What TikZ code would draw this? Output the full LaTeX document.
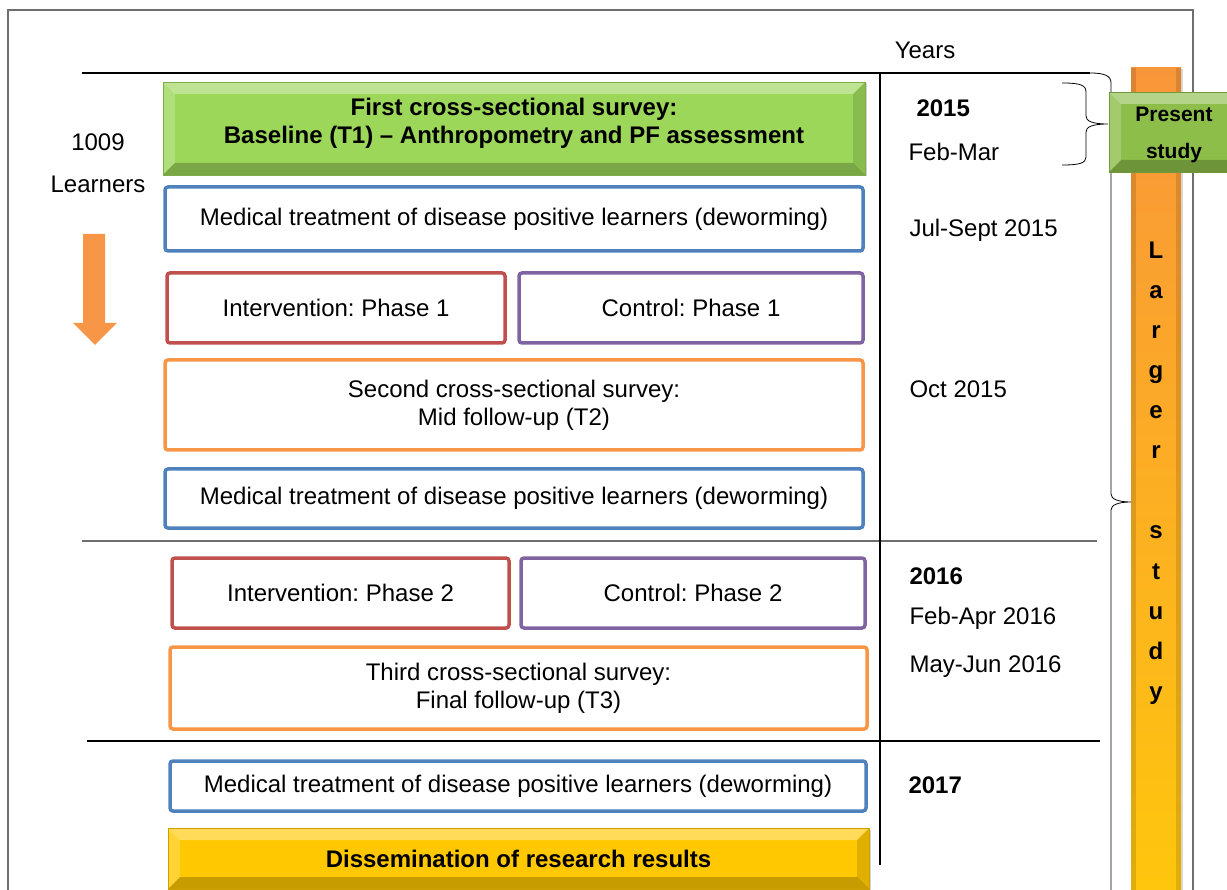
\documentclass[tikz,border=0pt]{standalone}
\usepackage{fontspec}
\setmainfont{Liberation Sans}
\usetikzlibrary{shadows}
\frenchspacing

\definecolor{boxblue}{HTML}{4F81BD}
\definecolor{boxred}{HTML}{C0504D}
\definecolor{boxpurple}{HTML}{8064A2}
\definecolor{boxorange}{HTML}{F79646}
\definecolor{surveygreen}{HTML}{9CD75A}
\definecolor{studygreen}{HTML}{8DBE4A}
\definecolor{dissyellow}{HTML}{FFC800}
\definecolor{barorange}{HTML}{F9963A}
\definecolor{baryellow}{HTML}{FFC90A}
\definecolor{framegray}{HTML}{6E6E6E}

\newcommand{\bigtext}{\fontsize{24}{28}\selectfont}

\tikzset{
  stagebox/.style={draw=#1, line width=3.5pt, rounded corners=3pt, fill=white,
    align=center, inner sep=0pt},
  bevel/.style={path picture={
    \fill[white, opacity=0.35] (path picture bounding box.north west) -- (path picture bounding box.north east)
      -- ([shift={(-12pt,-12pt)}]path picture bounding box.north east) -- ([shift={(12pt,-12pt)}]path picture bounding box.north west) -- cycle;
    \fill[white, opacity=0.2] (path picture bounding box.north west) -- (path picture bounding box.south west)
      -- ([shift={(12pt,12pt)}]path picture bounding box.south west) -- ([shift={(12pt,-12pt)}]path picture bounding box.north west) -- cycle;
    \fill[black, opacity=0.22] (path picture bounding box.south west) -- (path picture bounding box.south east)
      -- ([shift={(-12pt,12pt)}]path picture bounding box.south east) -- ([shift={(12pt,12pt)}]path picture bounding box.south west) -- cycle;
    \fill[black, opacity=0.12] (path picture bounding box.north east) -- (path picture bounding box.south east)
      -- ([shift={(-12pt,12pt)}]path picture bounding box.south east) -- ([shift={(-12pt,-12pt)}]path picture bounding box.north east) -- cycle;
  }},
  bevelbox/.style={fill=#1, draw=#1!80!black, line width=0.6pt, bevel, align=center,
    inner sep=0pt, font=\bigtext\bfseries,
    drop shadow={opacity=0.35, shadow xshift=1.5pt, shadow yshift=-1.5pt}},
  datelabel/.style={anchor=west},
  yearlabel/.style={anchor=west, font=\bigtext\bfseries},
  rule/.style={line width=1.2pt},
}

\begin{document}
\begin{tikzpicture}[x=1pt, y=-1pt, font=\bigtext]
  \useasboundingbox (0,0) rectangle (1227,890);

  % Outer frame and table rules
  \draw[framegray, line width=1.5pt] (8,950) -- (8,10) -- (1193,10) -- (1193,950);
  \draw[rule] (82,73) -- (1090,73);
  \draw[rule, framegray] (82,541) -- (1097,541);
  \draw[rule] (87,741) -- (1100,741);
  \draw[rule] (880,73) -- (880,865);

  \node (years) at (925,50) {Years};

  % Larger study bar
  \shade[top color=barorange, bottom color=baryellow, middle color=barorange!50!baryellow,
    drop shadow={opacity=0.3, shadow xshift=1.5pt, shadow yshift=-1.5pt}]
    (1131,68) rectangle (1181,940);
  \fill[black, opacity=0.12] (1131,68) rectangle (1136,940);
  \fill[black, opacity=0.12] (1176,68) rectangle (1181,940);
  \foreach \ch/\k in {L/0, a/1, r/2, g/3, e/4, r/5, s/7, t/8, u/9, d/10, y/11}
    \node[anchor=base, font=\bigtext\bfseries] (larger\k) at (1156,259+40*\k) {\ch};

  % Braces
  \draw[line width=0.8pt] (1090,73) .. controls (1105,73) and (1111,76) .. (1111,83)
    -- (1111,494) .. controls (1111,499) and (1118,502) .. (1131,502)
    .. controls (1118,502) and (1111,505) .. (1111,510) -- (1111,950);
  \draw[line width=0.8pt] (1062,83) .. controls (1080,83) and (1086,85) .. (1086,92)
    -- (1086,116) .. controls (1086,121) and (1092,124) .. (1108,124)
    .. controls (1092,124) and (1086,127) .. (1086,132)
    -- (1086,157) .. controls (1086,163) and (1080,165) .. (1062,165);

  \node[bevelbox=studygreen, minimum width=130, minimum height=80,
    font=\fontsize{21}{37}\selectfont\bfseries] (present) at (1174,132)
    {\rule{0pt}{20pt}Present\\study};

  % Learners and arrow
  \node[align=center, font=\fontsize{24}{42}\selectfont] (learners) at (98,163) {1009\\Learners};
  \fill[boxorange] (83,234) -- (105,234) -- (105,323) -- (117,323) -- (95,345)
    -- (73,323) -- (83,323) -- cycle;

  % Stages
  \node[bevelbox=surveygreen, minimum width=702, minimum height=93] (survey1) at (514,128.5)
    {First cross-sectional survey:\\Baseline (T1) -- Anthropometry and PF assessment\rule[-15pt]{0pt}{15pt}};
  \node[stagebox=boxblue, minimum width=698, minimum height=64] (treat1) at (514,219)
    {Medical treatment of disease positive learners (deworming)};
  \node[stagebox=boxred, minimum width=338, minimum height=70] (interv1) at (336,308)
    {Intervention: Phase 1};
  \node[stagebox=boxpurple, minimum width=344, minimum height=70] (control1) at (691,308)
    {Control: Phase 1};
  \node[stagebox=boxorange, minimum width=698, minimum height=90] (survey2) at (514,405)
    {Second cross-sectional survey:\\Mid follow-up (T2)};
  \node[stagebox=boxblue, minimum width=698, minimum height=59] (treat2) at (514,498.5)
    {Medical treatment of disease positive learners (deworming)};
  \node[stagebox=boxred, minimum width=337, minimum height=70] (interv2) at (340.5,593)
    {Intervention: Phase 2};
  \node[stagebox=boxpurple, minimum width=344, minimum height=70] (control2) at (693,593)
    {Control: Phase 2};
  \node[stagebox=boxorange, minimum width=697, minimum height=82] (survey3) at (518.5,688)
    {Third cross-sectional survey:\\Final follow-up (T3)};
  \node[stagebox=boxblue, minimum width=696, minimum height=50] (treat3) at (518,786)
    {Medical treatment of disease positive learners (deworming)};
  \node[bevelbox=dissyellow, minimum width=701, minimum height=61] (dissem) at (518.5,858.5)
    {Dissemination of research results};

  % Dates
  \node[yearlabel] (y2015) at (913,108) {2015};
  \node[datelabel] (febmar) at (905,152) {Feb-Mar};
  \node[datelabel] (julsep) at (906,230) {Jul-Sept 2015};
  \node[datelabel] (oct) at (906,389) {Oct 2015};
  \node[yearlabel] (y2016) at (906,576) {2016};
  \node[datelabel] (febapr) at (906,618) {Feb-Apr 2016};
  \node[datelabel] (mayjun) at (906,667) {May-Jun 2016};
  \node[yearlabel] (y2017) at (905,785) {2017};
\end{tikzpicture}
\end{document}
